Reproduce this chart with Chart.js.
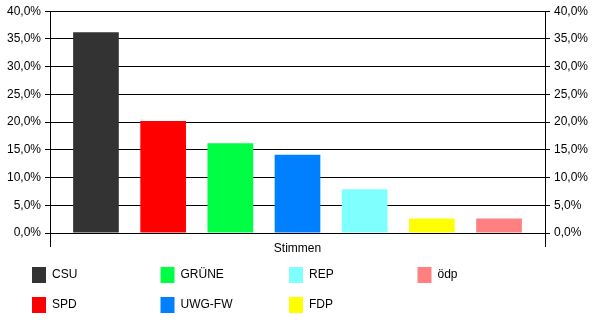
<!DOCTYPE html>
<html>
<head>
<meta charset="utf-8">
<script src="https://cdn.jsdelivr.net/npm/chart.js@4.4.1/dist/chart.umd.min.js"></script>
<style>
  html, body { margin: 0; padding: 0; background: #fff; }
  #wrap { width: 600px; height: 326px; }
</style>
</head>
<body>
<div id="wrap"><canvas id="myChart" width="600" height="326"></canvas></div>
<script>
// data
const categories = ['Stimmen'];
const parties = ['CSU', 'SPD', 'GRÜNE', 'UWG-FW', 'REP', 'FDP', 'ödp'];
const shares = [36.2, 20.2, 16.2, 14.1, 7.9, 2.6, 2.6];
const partyColors = ['#333333', '#ff0000', '#00ff44', '#0080ff', '#80ffff', '#ffff00', '#ff8080'];
const yMin = 0;
const yMax = 40;
const yStep = 5;

const FONT = { family: '"Liberation Sans", Arial, sans-serif', size: 12 };

function pct(v) {
  return v.toFixed(1).replace('.', ',') + '%';
}

// legend is laid out column by column, 2 rows
const gridLegend = {
  id: 'gridLegend',
  afterDraw(chart) {
    const ctx = chart.ctx;
    ctx.save();
    ctx.font = FONT.size + 'px ' + FONT.family;
    ctx.textBaseline = 'middle';
    ctx.textAlign = 'left';
    chart.data.datasets.forEach((ds, i) => {
      const col = Math.floor(i / 2);
      const row = i % 2;
      const x = 32 + col * 128.5;
      const y = 267 + row * 30;
      ctx.fillStyle = ds.backgroundColor;
      ctx.fillRect(x, y, 14, 16);
      ctx.fillStyle = '#000';
      ctx.fillText(ds.label, x + 20, y + 8);
    });
    ctx.restore();
  }
};

const datasets = parties.map((p, i) => ({
  label: p,
  data: [shares[i]],
  backgroundColor: partyColors[i],
  borderWidth: 0,
  categoryPercentage: 0.95,
  barPercentage: 0.68
}));

const yTicks = {
  color: '#000',
  font: FONT,
  padding: 4,
  stepSize: yStep,
  callback: (v) => pct(v)
};

new Chart(document.getElementById('myChart').getContext('2d'), {
  type: 'bar',
  data: { labels: categories, datasets: datasets },
  plugins: [gridLegend],
  options: {
    responsive: false,
    animation: false,
    layout: { padding: { top: 10, bottom: 73, left: 0, right: 0 } },
    plugins: { legend: { display: false }, tooltip: { enabled: false } },
    scales: {
      x: {
        offset: true,
        grid: { display: true, offset: true, drawOnChartArea: false, color: '#000', tickLength: 14 },
        border: { color: '#000' },
        ticks: { color: '#000', font: FONT, padding: -6 },
        afterFit: (s) => { s.height = 20; }
      },
      y: {
        position: 'left',
        min: yMin,
        max: yMax,
        grid: { color: '#000', tickLength: 5 },
        border: { color: '#000' },
        ticks: yTicks,
        afterFit: (s) => { s.width = 50; }
      },
      y2: {
        position: 'right',
        min: yMin,
        max: yMax,
        grid: { color: '#000', tickLength: 5, drawOnChartArea: false },
        border: { color: '#000' },
        ticks: yTicks,
        afterFit: (s) => { s.width = 55; }
      }
    }
  }
});
</script>
</body>
</html>
